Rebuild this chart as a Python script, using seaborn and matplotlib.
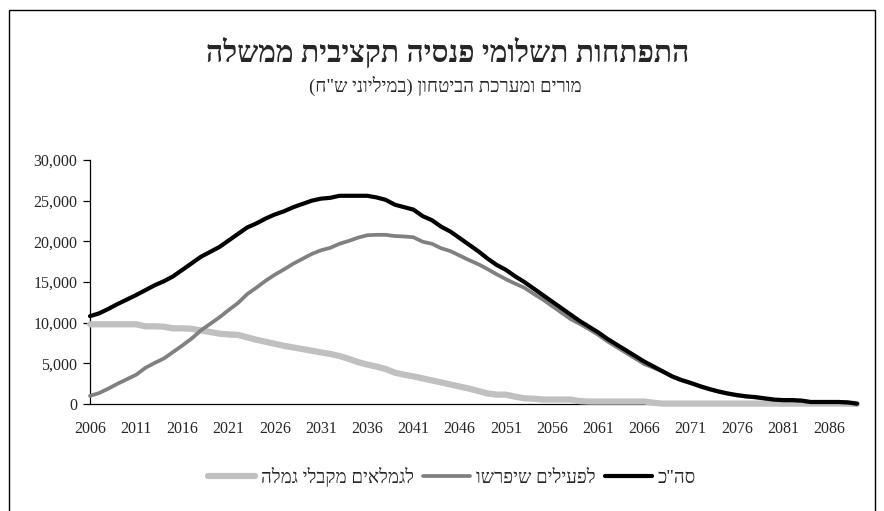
import numpy as np
import pandas as pd
import matplotlib
matplotlib.use("Agg")
import matplotlib.pyplot as plt
from matplotlib.patches import Rectangle
from matplotlib.lines import Line2D
import seaborn as sns

# ---------------- data ----------------
years = list(range(2006, 2090))

total = [10800, 11150, 11700, 12300, 12850, 13400, 14000, 14600, 15100, 15700,
         16500, 17300, 18100, 18700, 19300, 20100, 20900, 21700, 22200, 22800,
         23300, 23700, 24200, 24600, 25000, 25250, 25350, 25600, 25600, 25600,
         25600, 25400, 25100, 24500, 24200, 23900, 23100, 22600, 21800, 21200,
         20400, 19600, 18800, 17900, 17100, 16500, 15700, 15000, 14200, 13400,
         12600, 11800, 11000, 10200, 9500, 8800, 8000, 7300, 6600, 5900,
         5200, 4600, 4000, 3400, 2950, 2600, 2200, 1850, 1550, 1300,
         1100, 950, 850, 700, 550, 480, 480, 420, 250, 250,
         250, 250, 200, 40]

active = [1000, 1350, 1900, 2500, 3050, 3600, 4450, 5050, 5600, 6400,
          7200, 8050, 9050, 9850, 10650, 11550, 12400, 13500, 14300, 15150,
          15900, 16550, 17250, 17850, 18450, 18900, 19200, 19700, 20050, 20450,
          20750, 20800, 20800, 20650, 20600, 20500, 19950, 19700, 19150, 18800,
          18250, 17700, 17200, 16600, 15950, 15350, 14800, 14300, 13550, 12850,
          12050, 11250, 10450, 9850, 9200, 8500, 7700, 7000, 6300, 5600,
          4900, 4450, 3950, 3350, 2900, 2550, 2150, 1800, 1500, 1250,
          1050, 900, 800, 650, 500, 430, 430, 370, 200, 200,
          200, 200, 150, 30]

retirees = [9800, 9800, 9800, 9800, 9800, 9800, 9550, 9550, 9500, 9300,
            9300, 9250, 9050, 8850, 8650, 8550, 8500, 8200, 7900, 7650,
            7400, 7150, 6950, 6750, 6550, 6350, 6150, 5900, 5550, 5150,
            4850, 4600, 4300, 3850, 3600, 3400, 3150, 2900, 2650, 2400,
            2150, 1900, 1600, 1300, 1150, 1150, 900, 700, 650, 550,
            550, 550, 550, 350, 300, 300, 300, 300, 300, 300,
            300, 150, 50, 50, 50, 50, 50, 50, 50, 50,
            50, 50, 50, 50, 50, 50, 50, 50, 50, 50,
            50, 50, 50, 10]

x_ticks = list(range(2006, 2090, 5))
y_ticks = [0, 5000, 10000, 15000, 20000, 25000, 30000]

title_txt = "התפתחות תשלומי פנסיה תקציבית ממשלה"
subtitle_txt = 'מורים ומערכת הביטחון (במיליוני ש"ח)'
lbl_total = 'סה"כ'
lbl_active = "לפעילים שיפרשו"
lbl_retirees = "לגמלאים מקבלי גמלה"


def rtl(s):
    r = s[::-1]
    return r.translate(str.maketrans("()", ")("))


# ---------------- style ----------------
sns.set_style("white")
fonts = ["Liberation Serif", "DejaVu Serif", "DejaVu Sans"]
plt.rcParams["font.family"] = fonts

W, H = 884, 511
fig = plt.figure(figsize=(W / 100, H / 100), dpi=100)
ax = fig.add_axes([90 / W, 1 - 404 / H, (857 - 90) / W, (404 - 160) / H])

df = pd.DataFrame({"year": years, "total": total, "active": active, "retirees": retirees})

c_ret, c_act, c_tot = "#c0c0c0", "#808080", "#000000"
lw_ret, lw_act, lw_tot = 4.5, 2.7, 3.0

sns.lineplot(data=df, x="year", y="retirees", ax=ax, color=c_ret, linewidth=lw_ret,
             clip_on=False, solid_capstyle="round", zorder=3)
sns.lineplot(data=df, x="year", y="active", ax=ax, color=c_act, linewidth=lw_act,
             clip_on=False, solid_capstyle="round", zorder=4)
sns.lineplot(data=df, x="year", y="total", ax=ax, color=c_tot, linewidth=lw_tot,
             clip_on=False, solid_capstyle="round", zorder=5)

ax.set_xlim(2006, 2089)
ax.set_ylim(0, 30000)
ax.set_xticks(x_ticks)
ax.set_xticklabels([str(v) for v in x_ticks])
ax.set_yticks(y_ticks)
ax.set_yticklabels([f"{v:,}" for v in y_ticks])
ax.set_xlabel("")
ax.set_ylabel("")

for s in ["top", "right"]:
    ax.spines[s].set_visible(False)
for s in ["left", "bottom"]:
    ax.spines[s].set_color("black")
    ax.spines[s].set_linewidth(0.9)
    ax.spines[s].set_zorder(2)

ax.tick_params(axis="y", direction="out", length=5, width=0.9, color="black",
               pad=4, labelsize=11.5, left=True)
ax.tick_params(axis="x", length=0, pad=12, labelsize=11.5)
for lab in ax.get_xticklabels() + ax.get_yticklabels():
    lab.set_family(fonts)
ax.grid(False)

# titles
fig.text(448 / W, 1 - 52 / H, rtl(title_txt), ha="center", va="center",
         fontsize=21.5, fontweight="bold", family=fonts)
fig.text(445 / W, 1 - 86 / H, rtl(subtitle_txt), ha="center", va="center",
         fontsize=13.5, family=fonts)

# legend (RTL visual order)
handles = [
    Line2D([], [], color=c_ret, linewidth=lw_ret, solid_capstyle="round"),
    Line2D([], [], color=c_act, linewidth=lw_act, solid_capstyle="round"),
    Line2D([], [], color=c_tot, linewidth=lw_tot, solid_capstyle="round"),
]
labels = [rtl(lbl_retirees), rtl(lbl_active), rtl(lbl_total)]
fig.legend(handles, labels, loc="center", bbox_to_anchor=(452 / W, 1 - 477 / H),
           ncol=3, frameon=False, handlelength=2.5, handletextpad=0.3,
           columnspacing=0.5, prop={"family": fonts, "size": 13.5})

# outer frame
fig.patches.append(Rectangle((9 / W, -0.1), (875 - 9) / W, (1 - 10 / H) + 0.1,
                             transform=fig.transFigure, fill=False,
                             edgecolor="black", linewidth=1.0, clip_on=False))

fig.savefig("out.png", dpi=100)
